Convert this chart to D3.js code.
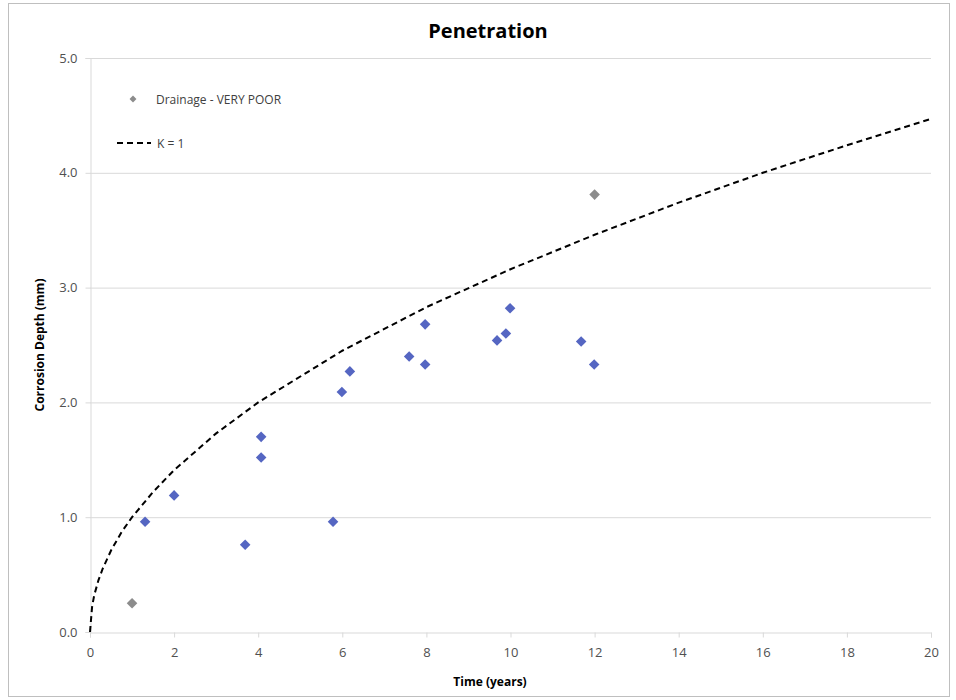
<!DOCTYPE html>
<html>
<head>
<meta charset="utf-8">
<script src="https://cdn.jsdelivr.net/npm/d3@7"></script>
<style>
  body { margin: 0; background: #fff; }
  text { font-family: "Open Sans", "Liberation Sans", sans-serif; }
</style>
</head>
<body>
<div id="chart"></div>
<script>
// measured points, blue series (not in legend)
const blueTime = [1.31, 2.0, 3.69, 4.07, 4.07, 5.78, 5.99, 6.18, 7.59, 7.97, 7.97, 9.68, 9.89, 9.99, 11.68, 11.99];
const blueDepth = [0.96, 1.19, 0.76, 1.70, 1.52, 0.96, 2.09, 2.27, 2.40, 2.33, 2.68, 2.54, 2.60, 2.82, 2.53, 2.33];

// "Drainage - VERY POOR" series
const grayTime = [1.0, 12.0];
const grayDepth = [0.25, 3.81];

// K = 1 reference curve
const curveTime = [0, 0.05, 0.1, 0.2, 0.3, 0.5, 0.75, 1, 1.5, 2, 3, 4, 6, 8, 10, 12, 14, 16, 18, 20];
const curveDepth = [0, 0.22, 0.32, 0.45, 0.55, 0.71, 0.87, 1.0, 1.22, 1.41, 1.73, 2.0, 2.45, 2.83, 3.16, 3.46, 3.74, 4.0, 4.24, 4.47];

const xTicks = [0, 2, 4, 6, 8, 10, 12, 14, 16, 18, 20];
const yTicks = [0, 1, 2, 3, 4, 5];

const width = 956;
const height = 700;

const svg = d3.select("#chart")
    .append("svg")
    .attr("width", width)
    .attr("height", height);

// outer chart border
svg.append("rect")
    .attr("x", 8.5).attr("y", 3.5)
    .attr("width", 941).attr("height", 693)
    .attr("fill", "#fff")
    .attr("stroke", "#bfbfbf");

const x = d3.scaleLinear().domain([0, 20]).range([90, 931]);
const y = d3.scaleLinear().domain([0, 5]).range([632, 58]);

// gridlines
svg.append("g")
    .selectAll("line")
    .data(yTicks.filter(d => d > 0))
    .enter().append("line")
    .attr("x1", x(0)).attr("x2", x(20))
    .attr("y1", d => y(d) + 0.5).attr("y2", d => y(d) + 0.5)
    .attr("stroke", "#d9d9d9");

const yAxis = svg.append("g")
    .attr("transform", `translate(${x(0) + 0.5},0)`)
    .call(d3.axisLeft(y).tickValues(yTicks).tickFormat(d3.format(".1f")).tickSize(5).tickPadding(8));

const xAxis = svg.append("g")
    .attr("transform", `translate(0,${y(0) + 0.5})`)
    .call(d3.axisBottom(x).tickValues(xTicks).tickSize(5).tickPadding(10));

[xAxis, yAxis].forEach(a => {
    a.select(".domain").attr("stroke", "#d9d9d9");
    a.selectAll(".tick line").attr("stroke", "#d9d9d9");
    a.selectAll(".tick text")
        .attr("fill", "#505050")
        .style("font-size", "13px");
});

// K = 1 curve
const line = d3.line()
    .x((d, i) => x(curveTime[i]))
    .y(d => y(d));

svg.append("path")
    .datum(curveDepth)
    .attr("d", line)
    .attr("fill", "none")
    .attr("stroke", "#000")
    .attr("stroke-width", 2)
    .attr("stroke-dasharray", "6,4");

const diamond = d3.symbol().type(d3.symbolSquare).size(56);

svg.append("g")
    .selectAll("path")
    .data(blueTime)
    .enter().append("path")
    .attr("d", diamond)
    .attr("transform", (d, i) => `translate(${x(d)},${y(blueDepth[i])}) rotate(45)`)
    .attr("fill", "#5566c2");

svg.append("g")
    .selectAll("path")
    .data(grayTime)
    .enter().append("path")
    .attr("d", diamond)
    .attr("transform", (d, i) => `translate(${x(d)},${y(grayDepth[i])}) rotate(45)`)
    .attr("fill", "#8c8c8c");

// title and axis titles
svg.append("text")
    .attr("x", 488).attr("y", 38)
    .attr("text-anchor", "middle")
    .style("font-size", "20px")
    .style("font-weight", "bold")
    .attr("fill", "#000")
    .text("Penetration");

svg.append("text")
    .attr("x", 490).attr("y", 686)
    .attr("text-anchor", "middle")
    .style("font-size", "12px")
    .style("font-weight", "bold")
    .text("Time (years)");

svg.append("text")
    .attr("transform", "translate(44,345) rotate(-90)")
    .attr("text-anchor", "middle")
    .style("font-size", "12px")
    .style("font-weight", "bold")
    .text("Corrosion Depth (mm)");

// legend
const legend = svg.append("g");

legend.append("path")
    .attr("d", d3.symbol().type(d3.symbolSquare).size(24))
    .attr("transform", "translate(133,99) rotate(45)")
    .attr("fill", "#8c8c8c");

legend.append("text")
    .attr("x", 156).attr("y", 103.5)
    .style("font-size", "12px")
    .attr("fill", "#404040")
    .text("Drainage - VERY POOR");

legend.append("line")
    .attr("x1", 117).attr("x2", 151)
    .attr("y1", 143).attr("y2", 143)
    .attr("stroke", "#000")
    .attr("stroke-width", 2)
    .attr("stroke-dasharray", "6,4");

legend.append("text")
    .attr("x", 157).attr("y", 147.5)
    .style("font-size", "12px")
    .attr("fill", "#404040")
    .text("K = 1");
</script>
</body>
</html>
